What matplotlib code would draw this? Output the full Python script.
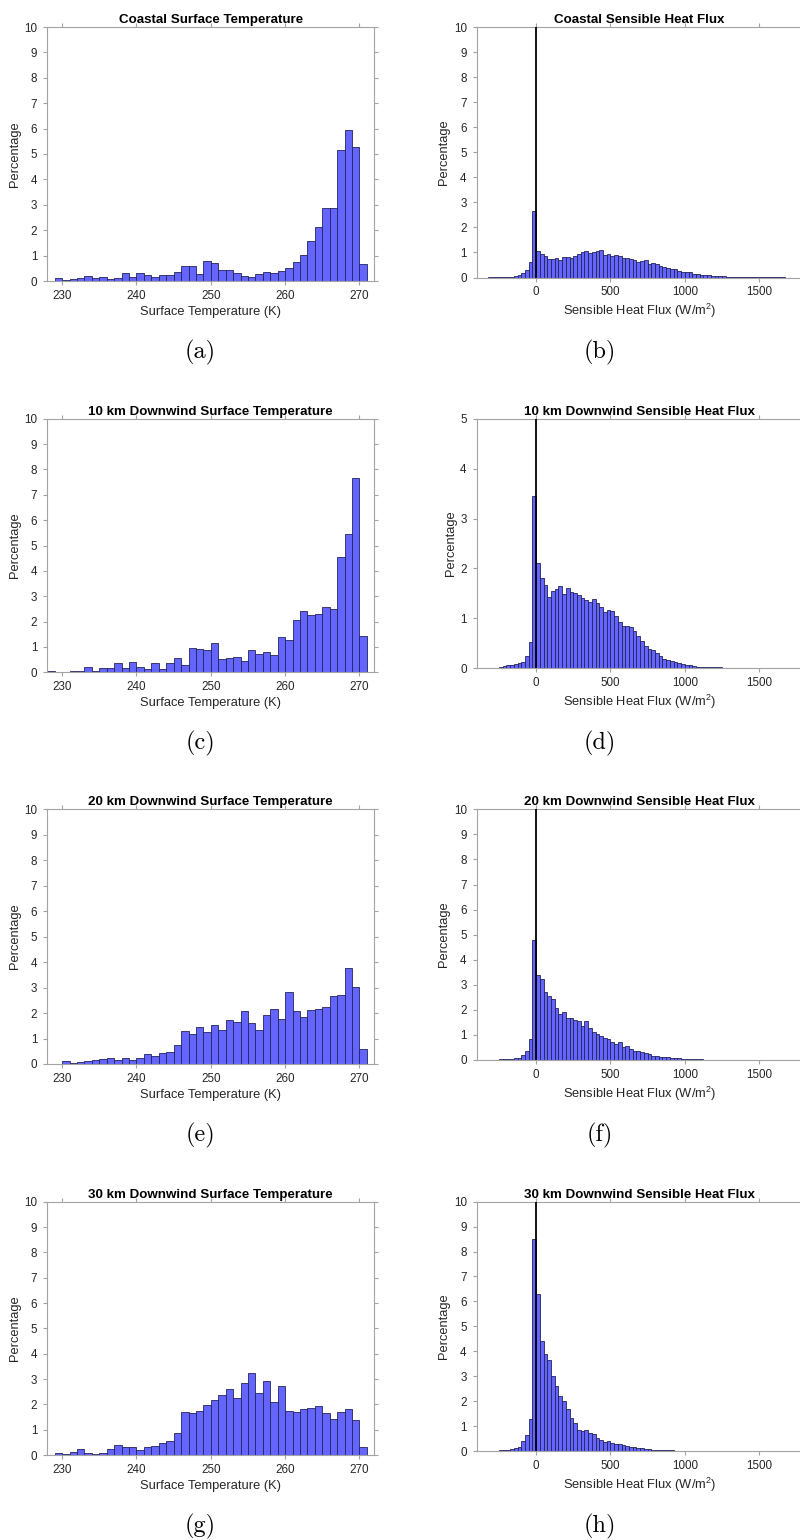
import matplotlib
matplotlib.use("Agg")
import matplotlib.pyplot as plt
import numpy as np

plt.rcParams["font.family"] = ["Liberation Sans", "DejaVu Sans"]
plt.rcParams["mathtext.fontset"] = "custom"
plt.rcParams["mathtext.rm"] = "Liberation Sans"
plt.rcParams["mathtext.it"] = "Liberation Sans:italic"
plt.rcParams["mathtext.bf"] = "Liberation Sans:bold"

# ---------------- data: percentage of samples per bin ----------------
temp_bin_width = 1.0  # K
flux_bin_width = 25.0  # W/m^2
flux_bin_start = -325.0

coastal_temp_start = 229
coastal_temp_pct = [0.1, 0.03, 0.08, 0.1, 0.2, 0.12, 0.14, 0.08, 0.1, 0.3, 0.14, 0.3,
                    0.24, 0.17, 0.24, 0.24, 0.34, 0.6, 0.58, 0.28, 0.79, 0.71, 0.43, 0.43,
                    0.3, 0.2, 0.17, 0.28, 0.34, 0.31, 0.38, 0.5, 0.73, 1.02, 1.57, 2.12,
                    2.87, 2.87, 5.15, 5.96, 5.28, 0.66]

km10_temp_start = 228
km10_temp_pct = [0.04, 0.01, 0.01, 0.07, 0.07, 0.2, 0.07, 0.16, 0.16, 0.36, 0.16, 0.39,
                 0.2, 0.13, 0.36, 0.13, 0.36, 0.55, 0.3, 0.95, 0.91, 0.89, 1.17, 0.51,
                 0.55, 0.62, 0.43, 0.86, 0.72, 0.82, 0.7, 1.4, 1.26, 2.08, 2.42, 2.25,
                 2.28, 2.59, 2.49, 4.53, 5.45, 7.67, 1.45]

km20_temp_start = 230
km20_temp_pct = [0.1, 0.03, 0.07, 0.1, 0.17, 0.18, 0.22, 0.17, 0.22, 0.17, 0.22, 0.38,
                 0.3, 0.42, 0.46, 0.73, 1.28, 1.18, 1.45, 1.24, 1.52, 1.32, 1.71, 1.64,
                 2.07, 1.6, 1.35, 1.91, 2.16, 1.77, 2.83, 2.07, 1.85, 2.12, 2.16, 2.23,
                 2.67, 2.72, 3.76, 3.01, 0.59]

km30_temp_start = 229
km30_temp_pct = [0.07, 0.03, 0.13, 0.22, 0.07, 0.03, 0.09, 0.22, 0.38, 0.3, 0.3, 0.18,
                 0.33, 0.36, 0.49, 0.55, 0.88, 1.7, 1.67, 1.75, 1.96, 2.18, 2.36, 2.62,
                 2.26, 2.83, 3.25, 2.43, 2.91, 2.09, 2.71, 1.72, 1.7, 1.83, 1.87, 1.95,
                 1.64, 1.41, 1.68, 1.83, 1.39, 0.3]

coastal_flux_pct = [0.01, 0.01, 0.01, 0.01, 0.02, 0.02, 0.03, 0.05, 0.08, 0.16, 0.29, 0.61, 2.67,
                    1.06, 0.93, 0.85, 0.73, 0.73, 0.77, 0.71, 0.81, 0.82, 0.77, 0.87, 0.94,
                    1.0, 1.06, 0.99, 1.03, 1.04, 1.08, 0.91, 0.95, 0.86, 0.91, 0.87, 0.79,
                    0.77, 0.73, 0.69, 0.63, 0.65, 0.71, 0.54, 0.57, 0.54, 0.46, 0.41, 0.36,
                    0.32, 0.32, 0.25, 0.21, 0.22, 0.21, 0.13, 0.12, 0.09, 0.09, 0.08, 0.07,
                    0.07, 0.05, 0.04, 0.03, 0.03, 0.03, 0.03, 0.03, 0.02, 0.02, 0.02, 0.02,
                    0.02, 0.01, 0.01, 0.01, 0.01, 0.01, 0.01]

km10_flux_pct = [0.005, 0.01, 0.01, 0.03, 0.05, 0.06, 0.07, 0.09, 0.11, 0.12, 0.24, 0.52, 3.45,
                 2.1, 1.8, 1.67, 1.43, 1.55, 1.59, 1.65, 1.49, 1.61, 1.53, 1.5, 1.47, 1.4,
                 1.37, 1.33, 1.38, 1.31, 1.23, 1.12, 1.16, 1.15, 1.04, 0.92, 0.84, 0.85,
                 0.82, 0.75, 0.65, 0.55, 0.45, 0.39, 0.37, 0.3, 0.24, 0.18, 0.16, 0.14,
                 0.12, 0.1, 0.09, 0.07, 0.06, 0.05, 0.03, 0.02, 0.02, 0.02, 0.02, 0.02,
                 0.02, 0.01, 0.01, 0.01, 0.01, 0.01, 0.01, 0.01]

km20_flux_pct = [0.005, 0.01, 0.01, 0.03, 0.04, 0.04, 0.05, 0.07, 0.09, 0.19, 0.36, 0.85, 4.77,
                 3.38, 3.24, 2.72, 2.55, 2.44, 2.08, 1.84, 1.91, 1.67, 1.66, 1.59, 1.56,
                 1.35, 1.55, 1.27, 1.13, 1.02, 0.94, 0.88, 0.84, 0.7, 0.65, 0.7, 0.5, 0.54,
                 0.42, 0.37, 0.36, 0.33, 0.28, 0.23, 0.16, 0.16, 0.12, 0.12, 0.11, 0.07,
                 0.07, 0.08, 0.05, 0.04, 0.03, 0.03, 0.02, 0.02, 0.01, 0.01, 0.01, 0.01,
                 0.01, 0.01, 0.01, 0.01, 0.005, 0.005, 0.005, 0.005, 0.005, 0.005, 0.005,
                 0.005, 0.005, 0.005, 0.005]

km30_flux_pct = [0.01, 0.01, 0.02, 0.03, 0.04, 0.05, 0.08, 0.11, 0.17, 0.41, 0.63, 1.27, 8.49,
                 6.28, 4.42, 3.88, 3.65, 3.01, 2.61, 2.19, 2.01, 1.68, 1.32, 1.12, 0.86,
                 0.82, 0.84, 0.72, 0.68, 0.52, 0.45, 0.37, 0.41, 0.31, 0.27, 0.28, 0.23,
                 0.19, 0.16, 0.17, 0.13, 0.11, 0.09, 0.09, 0.05, 0.05, 0.04, 0.04, 0.03,
                 0.03, 0.02, 0.02, 0.02, 0.02, 0.01, 0.01, 0.01, 0.01, 0.01, 0.01, 0.01,
                 0.01, 0.01, 0.01, 0.005, 0.005, 0.005]

temp_titles = ["Coastal Surface Temperature", "10 km Downwind Surface Temperature",
               "20 km Downwind Surface Temperature", "30 km Downwind Surface Temperature"]
flux_titles = ["Coastal Sensible Heat Flux", "10 km Downwind Sensible Heat Flux",
               "20 km Downwind Sensible Heat Flux", "30 km Downwind Sensible Heat Flux"]
temp_captions = ["(a)", "(c)", "(e)", "(g)"]
flux_captions = ["(b)", "(d)", "(f)", "(h)"]
flux_ymax = [10, 5, 10, 10]

temp_series = [(coastal_temp_start, coastal_temp_pct), (km10_temp_start, km10_temp_pct),
               (km20_temp_start, km20_temp_pct), (km30_temp_start, km30_temp_pct)]
flux_series = [coastal_flux_pct, km10_flux_pct, km20_flux_pct, km30_flux_pct]

# ---------------- layout (pixels) ----------------
W, H = 800, 1540
fig = plt.figure(figsize=(W / 100, H / 100), dpi=100)

temp_top = [27, 418.7, 809.3, 1201.7]
temp_bottom = [281, 672.3, 1064, 1455]
flux_bottom = [277.5, 668.3, 1060, 1451]
caption_y = [352, 743.5, 1135, 1526.5]
left_col = (47.3, 374.3)
right_col = (476.7, 803.7)

FACE = "#6464ff"
EDGE = "#23235a"
SPINE = "#a3a3a3"
TXT = "#262626"


def make_axes(x0, x1, top, bottom):
    return fig.add_axes([x0 / W, 1 - bottom / H, (x1 - x0) / W, (bottom - top) / H])


def style(ax):
    for s in ax.spines.values():
        s.set_color(SPINE)
        s.set_linewidth(0.8)
    ax.tick_params(which="both", direction="out", length=2.7, width=0.8, color=SPINE,
                   labelsize=8.4, labelcolor=TXT, top=True, right=True,
                   labeltop=False, labelright=False)
    ax.tick_params(axis="x", pad=3.5)
    ax.tick_params(axis="y", pad=4.5)


def add_title(ax, text):
    ax.annotate(text, xy=(0.5, 1.0), xycoords="axes fraction", xytext=(0, 3),
                textcoords="offset points", ha="center", va="baseline",
                fontsize=9.6, fontweight="bold", color="black")


for i in range(4):
    # surface temperature histogram
    start, pct = temp_series[i]
    edges = start + temp_bin_width * np.arange(len(pct))
    ax = make_axes(left_col[0], left_col[1], temp_top[i], temp_bottom[i])
    ax.bar(edges, pct, width=temp_bin_width, align="edge", color=FACE,
           edgecolor=EDGE, linewidth=0.6)
    ax.set_xlim(228, 272)
    ax.set_ylim(0, 10)
    ax.set_xticks([230, 240, 250, 260, 270])
    ax.set_yticks(np.arange(0, 11, 1))
    style(ax)
    ax.set_xlabel("Surface Temperature (K)", fontsize=9.3, color=TXT, labelpad=3)
    ax.set_ylabel("Percentage", fontsize=9.3, color=TXT, labelpad=2.5)
    add_title(ax, temp_titles[i])
    fig.text(200 / W, 1 - caption_y[i] / H, temp_captions[i], fontfamily="cmr10",
             fontsize=17.5, ha="center", va="center")

    # sensible heat flux histogram
    fpct = flux_series[i]
    fedges = flux_bin_start + flux_bin_width * np.arange(len(fpct))
    ax = make_axes(right_col[0], right_col[1], temp_top[i], flux_bottom[i])
    ax.bar(fedges, fpct, width=flux_bin_width, align="edge", color=FACE,
           edgecolor=EDGE, linewidth=0.6)
    ax.axvline(0, color="black", linewidth=1.3, zorder=5)
    ax.set_xlim(-400, 1800)
    ax.set_ylim(0, flux_ymax[i])
    ax.set_xticks([0, 500, 1000, 1500])
    ax.set_yticks(np.arange(0, flux_ymax[i] + 1, 1))
    style(ax)
    ax.set_xlabel(r"Sensible Heat Flux (W/m$^{\mathrm{2}}$)", fontsize=9.3, color=TXT,
                  labelpad=3)
    ax.set_ylabel("Percentage", fontsize=9.3, color=TXT, labelpad=2.5)
    ax.annotate(flux_titles[i], xy=(639.7 / W, 1 - temp_top[i] / H),
                xycoords="figure fraction", xytext=(0, 3), textcoords="offset points",
                ha="center", va="baseline", fontsize=9.6, fontweight="bold",
                color="black")
    fig.text(600 / W, 1 - caption_y[i] / H, flux_captions[i], fontfamily="cmr10",
             fontsize=17.5, ha="center", va="center")

fig.savefig("out.png", dpi=100)
